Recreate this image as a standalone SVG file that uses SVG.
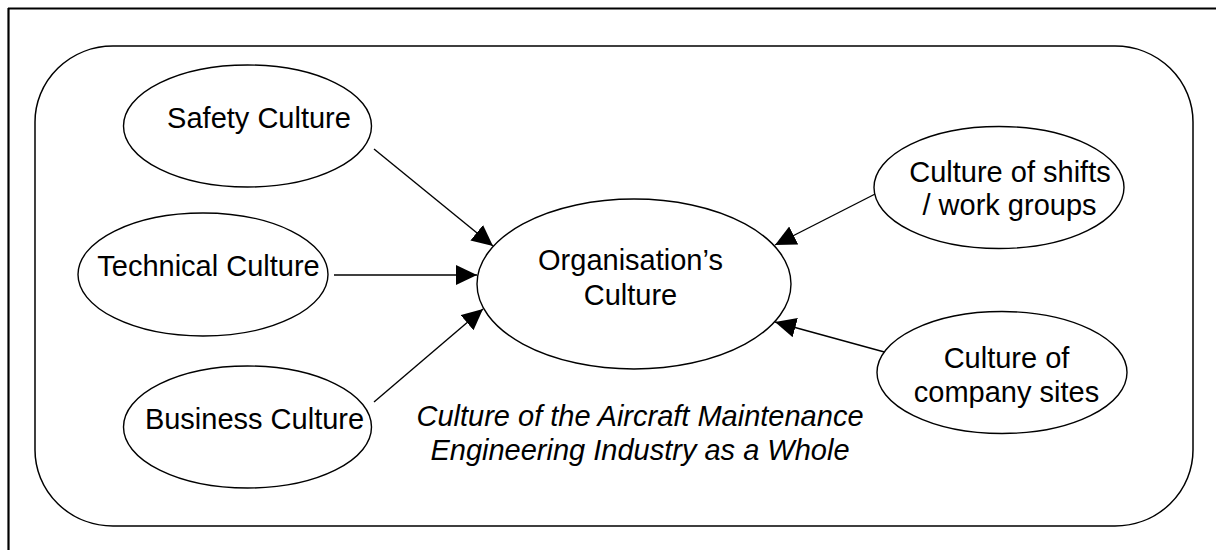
<svg xmlns="http://www.w3.org/2000/svg" width="1216" height="550" viewBox="0 0 1216 550">
<defs>
<style>
.node ellipse{fill:#fff;stroke:#000;stroke-width:1.4}
.lbl{font-family:"Liberation Sans",Arial,sans-serif;font-size:29px;fill:#000;text-anchor:middle}
.it{font-family:"Liberation Sans",Arial,sans-serif;font-size:29px;font-style:italic;fill:#000;text-anchor:middle}
.conn line{stroke:#000;stroke-width:1.4}
</style>
<marker id="arr" markerUnits="userSpaceOnUse" markerWidth="22" markerHeight="22" refX="21" refY="10" orient="auto">
<path d="M0,0 L21,10 L0,20 Z" fill="#000"/>
</marker>
</defs>
<rect width="1216" height="550" fill="#fff"/>
<g id="frame">
<line x1="8" y1="8.5" x2="1216" y2="8.5" stroke="#000" stroke-width="2.2"/>
<line x1="8.5" y1="8" x2="8.5" y2="550" stroke="#000" stroke-width="2.2"/>
</g>
<g id="industry">
<rect x="35" y="46" width="1158" height="480" rx="78" ry="76" fill="none" stroke="#000" stroke-width="1.5"/>
<text class="it" x="640" y="426">Culture of the Aircraft Maintenance</text>
<text class="it" x="640" y="460">Engineering Industry as a Whole</text>
</g>
<g class="conn" id="connectors">
<line x1="374" y1="149" x2="493" y2="246" marker-end="url(#arr)"/>
<line x1="334" y1="275" x2="477" y2="275" marker-end="url(#arr)"/>
<line x1="374" y1="402" x2="483" y2="309" marker-end="url(#arr)"/>
<line x1="883" y1="190" x2="775" y2="245" marker-end="url(#arr)"/>
<line x1="888" y1="353" x2="775" y2="322" marker-end="url(#arr)"/>
</g>
<g class="node" id="safety">
<ellipse cx="247.5" cy="126" rx="124" ry="61"/>
<text class="lbl" x="259" y="128">Safety Culture</text>
</g>
<g class="node" id="technical">
<ellipse cx="203" cy="274.5" rx="125" ry="61.5"/>
<text class="lbl" x="208.5" y="276">Technical Culture</text>
</g>
<g class="node" id="business">
<ellipse cx="247.5" cy="427" rx="124" ry="61"/>
<text class="lbl" x="254.5" y="429">Business Culture</text>
</g>
<g class="node" id="organisation">
<ellipse cx="634" cy="284" rx="157" ry="85"/>
<text class="lbl" x="630.5" y="270">Organisation’s</text>
<text class="lbl" x="630.5" y="305">Culture</text>
</g>
<g class="node" id="shifts">
<ellipse cx="999" cy="187.5" rx="125" ry="61"/>
<text class="lbl" x="1010" y="182">Culture of shifts</text>
<text class="lbl" x="1009.5" y="215">/ work groups</text>
</g>
<g class="node" id="sites">
<ellipse cx="1002" cy="372.5" rx="125" ry="61"/>
<text class="lbl" x="1006.5" y="368">Culture of</text>
<text class="lbl" x="1006.5" y="402">company sites</text>
</g>
</svg>
